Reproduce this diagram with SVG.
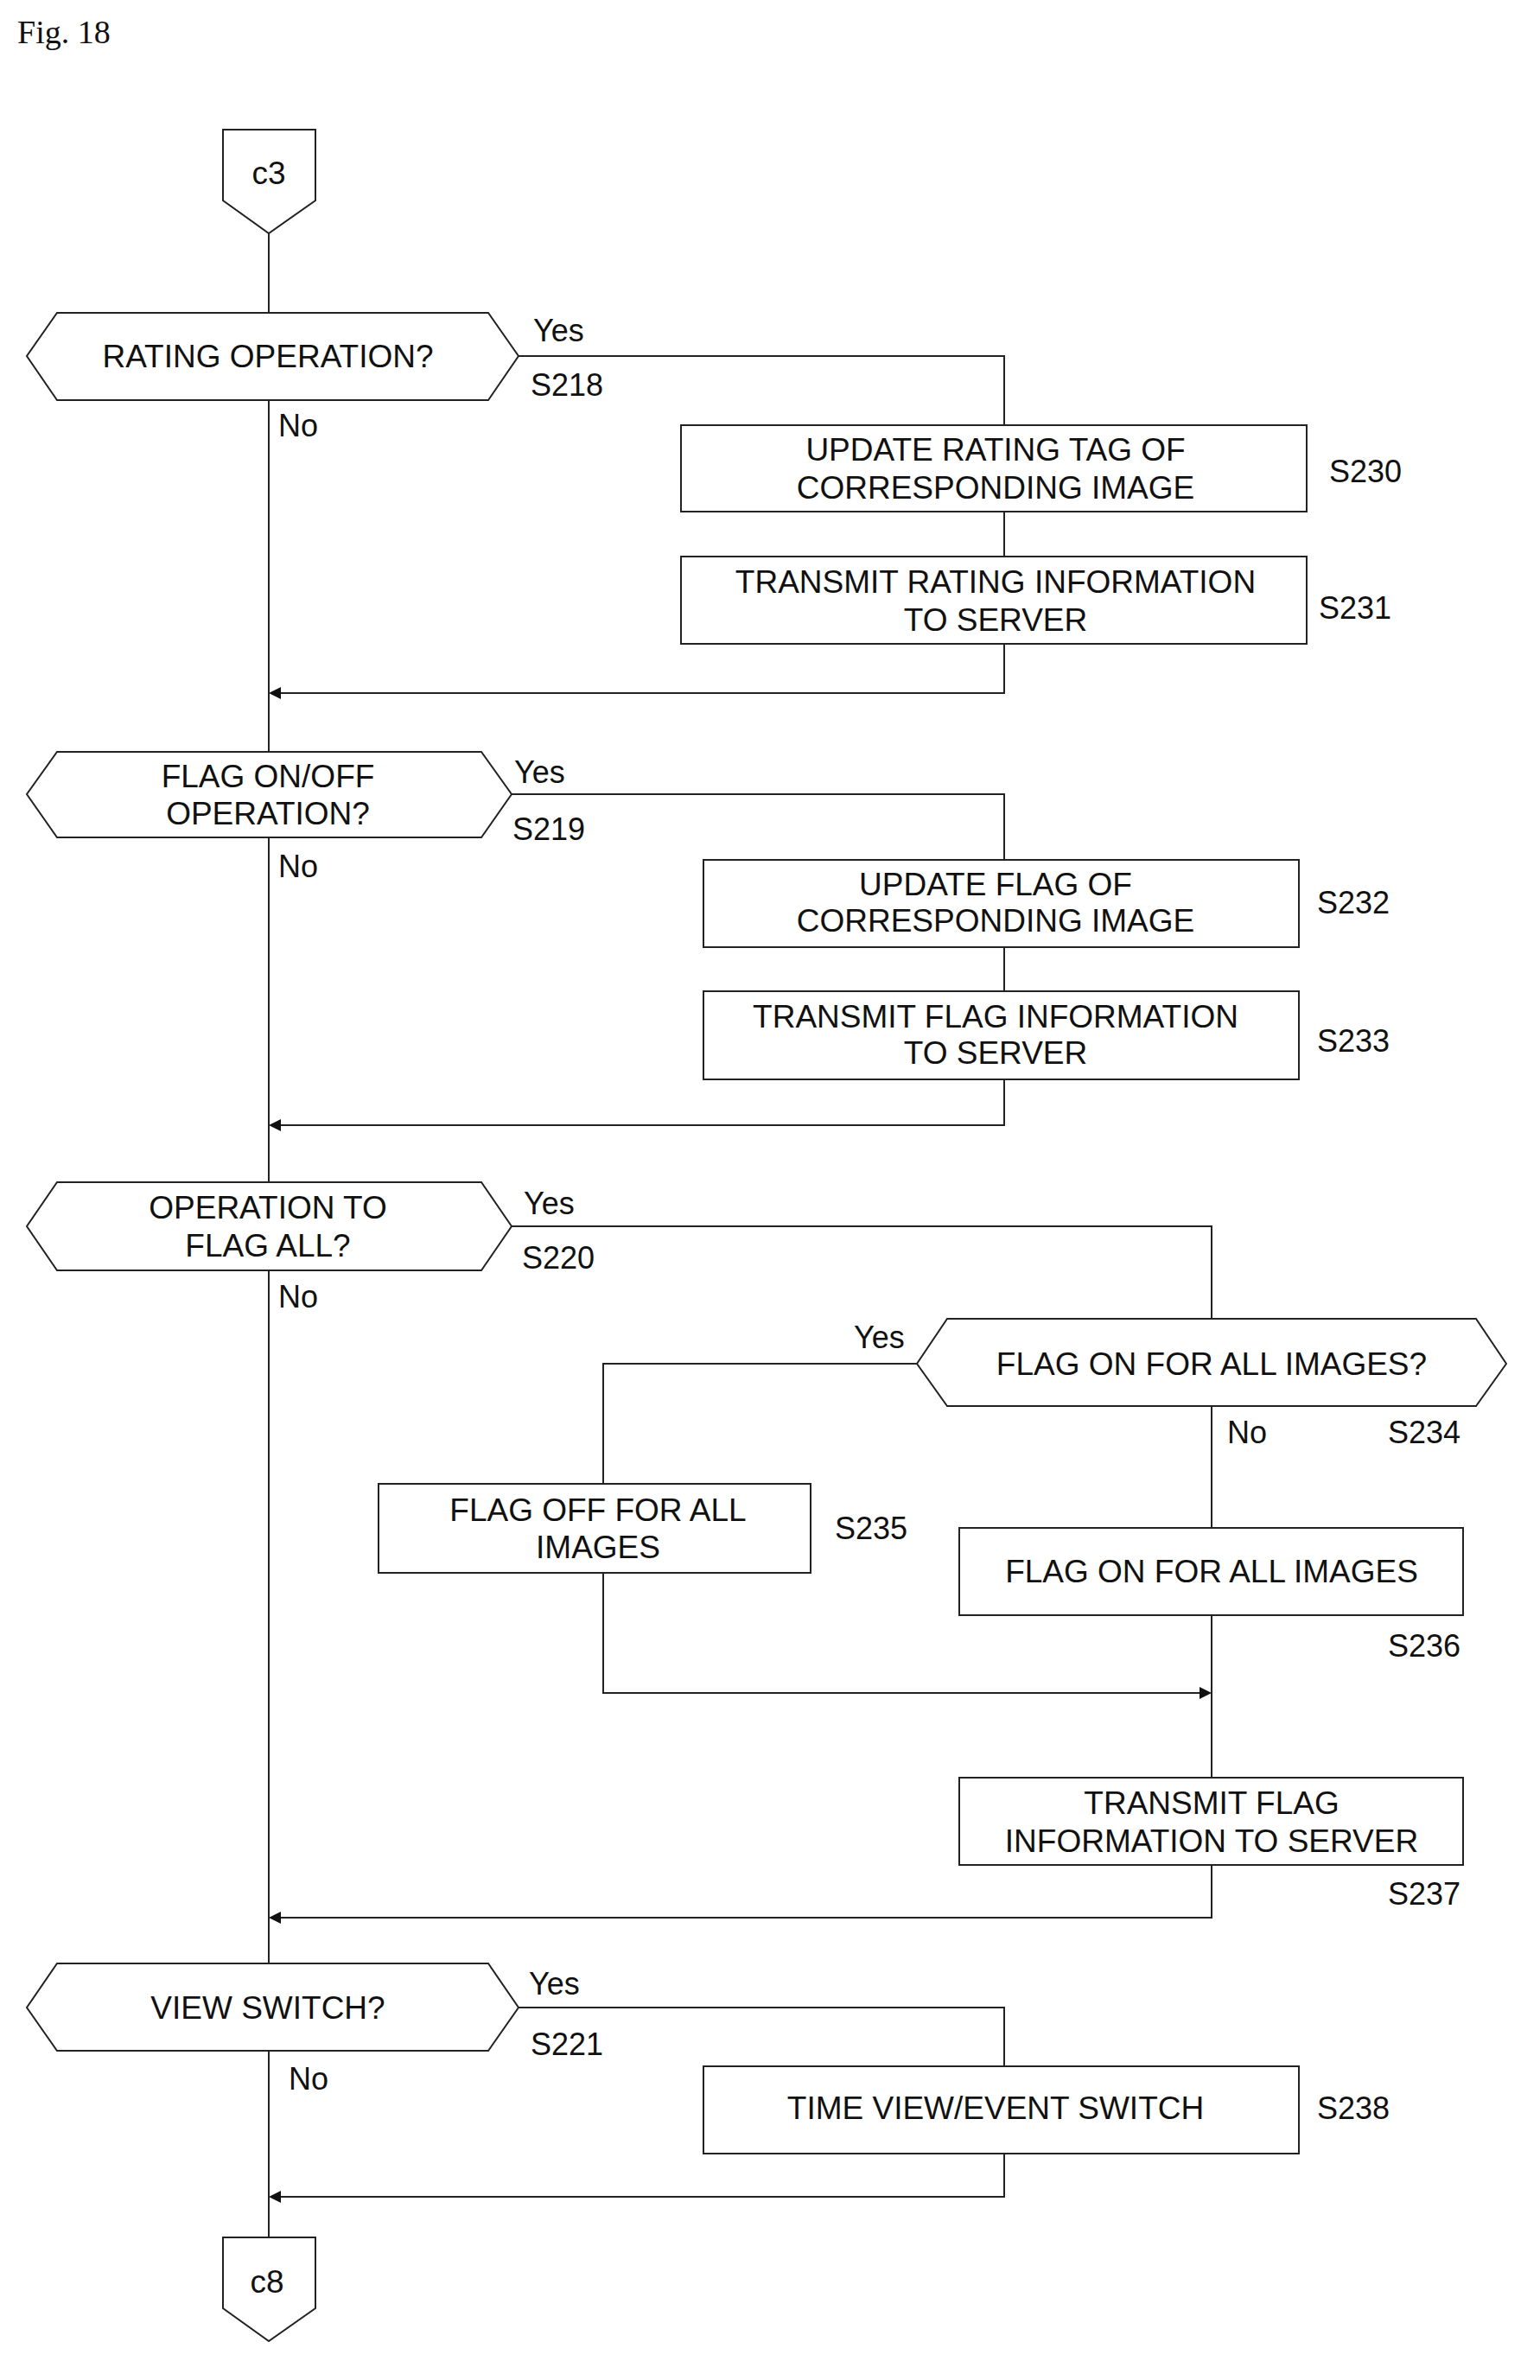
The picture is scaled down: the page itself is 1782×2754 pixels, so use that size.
<svg xmlns="http://www.w3.org/2000/svg" width="1782" height="2754" viewBox="0 0 1782 2754">
<style>
.s{fill:#fff;stroke:#222;stroke-width:2}
.l{fill:none;stroke:#222;stroke-width:2}
text{font-family:"Liberation Sans",Arial,sans-serif;font-size:37px;fill:#111}
.c{text-anchor:middle}
.lb{font-size:36px}
</style>
<defs><marker id="a" markerWidth="14" markerHeight="14" refX="12" refY="7" orient="auto" markerUnits="userSpaceOnUse"><path d="M0,0L14,7L0,14z" fill="#111"/></marker></defs>
<rect width="1782" height="2754" fill="#fff"/>
<text x="20" y="50" style="font-family:'Liberation Serif',serif;font-size:38px">Fig. 18</text>
<g id="connectors">
<path class="l" d="M311,270V2589"/>
<path class="l" d="M600,412H1162V492M1162,592V644"/>
<path class="l" d="M1162,745V802H313" marker-end="url(#a)"/>
<path class="l" d="M592,919H1162V995M1162,1096V1147"/>
<path class="l" d="M1162,1249V1302H313" marker-end="url(#a)"/>
<path class="l" d="M592,1419H1402V1526M1402,1627V1768M1402,1869V2057"/>
<path class="l" d="M1061,1578H698V1717"/>
<path class="l" d="M698,1820V1959H1400" marker-end="url(#a)"/>
<path class="l" d="M1402,2158V2219H313" marker-end="url(#a)"/>
<path class="l" d="M600,2323H1162V2391"/>
<path class="l" d="M1162,2492V2542H313" marker-end="url(#a)"/>
</g>
<g id="c3"><path class="s" d="M258,150H365V232L311,270L258,232Z"/><text class="c" x="311" y="213">c3</text></g>
<g id="S218"><path class="s" d="M66,362H565L600,412L565,463H66L31,412Z"/><text class="c" x="310" y="425">RATING OPERATION?</text>
<text class="lb" x="617" y="395">Yes</text><text class="lb" x="614" y="458">S218</text><text class="lb" x="322" y="505">No</text></g>
<g id="S230"><rect class="s" x="788" y="492" width="724" height="100"/><text class="c" x="1152" y="533">UPDATE RATING TAG OF</text><text class="c" x="1152" y="577">CORRESPONDING IMAGE</text><text class="lb" x="1538" y="558">S230</text></g>
<g id="S231"><rect class="s" x="788" y="644" width="724" height="101"/><text class="c" x="1152" y="686">TRANSMIT RATING INFORMATION</text><text class="c" x="1152" y="730">TO SERVER</text><text class="lb" x="1526" y="716">S231</text></g>
<g id="S219"><path class="s" d="M66,870H557L592,919L557,969H66L31,919Z"/><text class="c" x="310" y="911">FLAG ON/OFF</text><text class="c" x="310" y="954">OPERATION?</text>
<text class="lb" x="595" y="906">Yes</text><text class="lb" x="593" y="972">S219</text><text class="lb" x="322" y="1015">No</text></g>
<g id="S232"><rect class="s" x="814" y="995" width="689" height="101"/><text class="c" x="1152" y="1036">UPDATE FLAG OF</text><text class="c" x="1152" y="1078">CORRESPONDING IMAGE</text><text class="lb" x="1524" y="1057">S232</text></g>
<g id="S233"><rect class="s" x="814" y="1147" width="689" height="102"/><text class="c" x="1152" y="1189">TRANSMIT FLAG INFORMATION</text><text class="c" x="1152" y="1231">TO SERVER</text><text class="lb" x="1524" y="1217">S233</text></g>
<g id="S220"><path class="s" d="M66,1368H557L592,1419L557,1470H66L31,1419Z"/><text class="c" x="310" y="1410">OPERATION TO</text><text class="c" x="310" y="1454">FLAG ALL?</text>
<text class="lb" x="606" y="1405">Yes</text><text class="lb" x="604" y="1468">S220</text><text class="lb" x="322" y="1513">No</text></g>
<g id="S234"><path class="s" d="M1096,1526H1708L1743,1578L1708,1627H1096L1061,1578Z"/><text class="c" x="1402" y="1591">FLAG ON FOR ALL IMAGES?</text>
<text class="lb" x="988" y="1560">Yes</text><text class="lb" x="1606" y="1670">S234</text><text class="lb" x="1420" y="1670">No</text></g>
<g id="S235"><rect class="s" x="438" y="1717" width="500" height="103"/><text class="c" x="692" y="1760">FLAG OFF FOR ALL</text><text class="c" x="692" y="1803">IMAGES</text><text class="lb" x="966" y="1781">S235</text></g>
<g id="S236"><rect class="s" x="1110" y="1768" width="583" height="101"/><text class="c" x="1402" y="1831">FLAG ON FOR ALL IMAGES</text><text class="lb" x="1606" y="1917">S236</text></g>
<g id="S237"><rect class="s" x="1110" y="2057" width="583" height="101"/><text class="c" x="1402" y="2099">TRANSMIT FLAG</text><text class="c" x="1402" y="2143">INFORMATION TO SERVER</text><text class="lb" x="1606" y="2204">S237</text></g>
<g id="S221"><path class="s" d="M66,2272H565L600,2323L565,2373H66L31,2323Z"/><text class="c" x="310" y="2336">VIEW SWITCH?</text>
<text class="lb" x="612" y="2308">Yes</text><text class="lb" x="614" y="2378">S221</text><text class="lb" x="334" y="2418">No</text></g>
<g id="S238"><rect class="s" x="814" y="2391" width="689" height="101"/><text class="c" x="1152" y="2452">TIME VIEW/EVENT SWITCH</text><text class="lb" x="1524" y="2452">S238</text></g>
<g id="c8"><path class="s" d="M258,2589H365V2671L311,2709L258,2671Z"/><text class="c" x="309" y="2653">c8</text></g>
</svg>
